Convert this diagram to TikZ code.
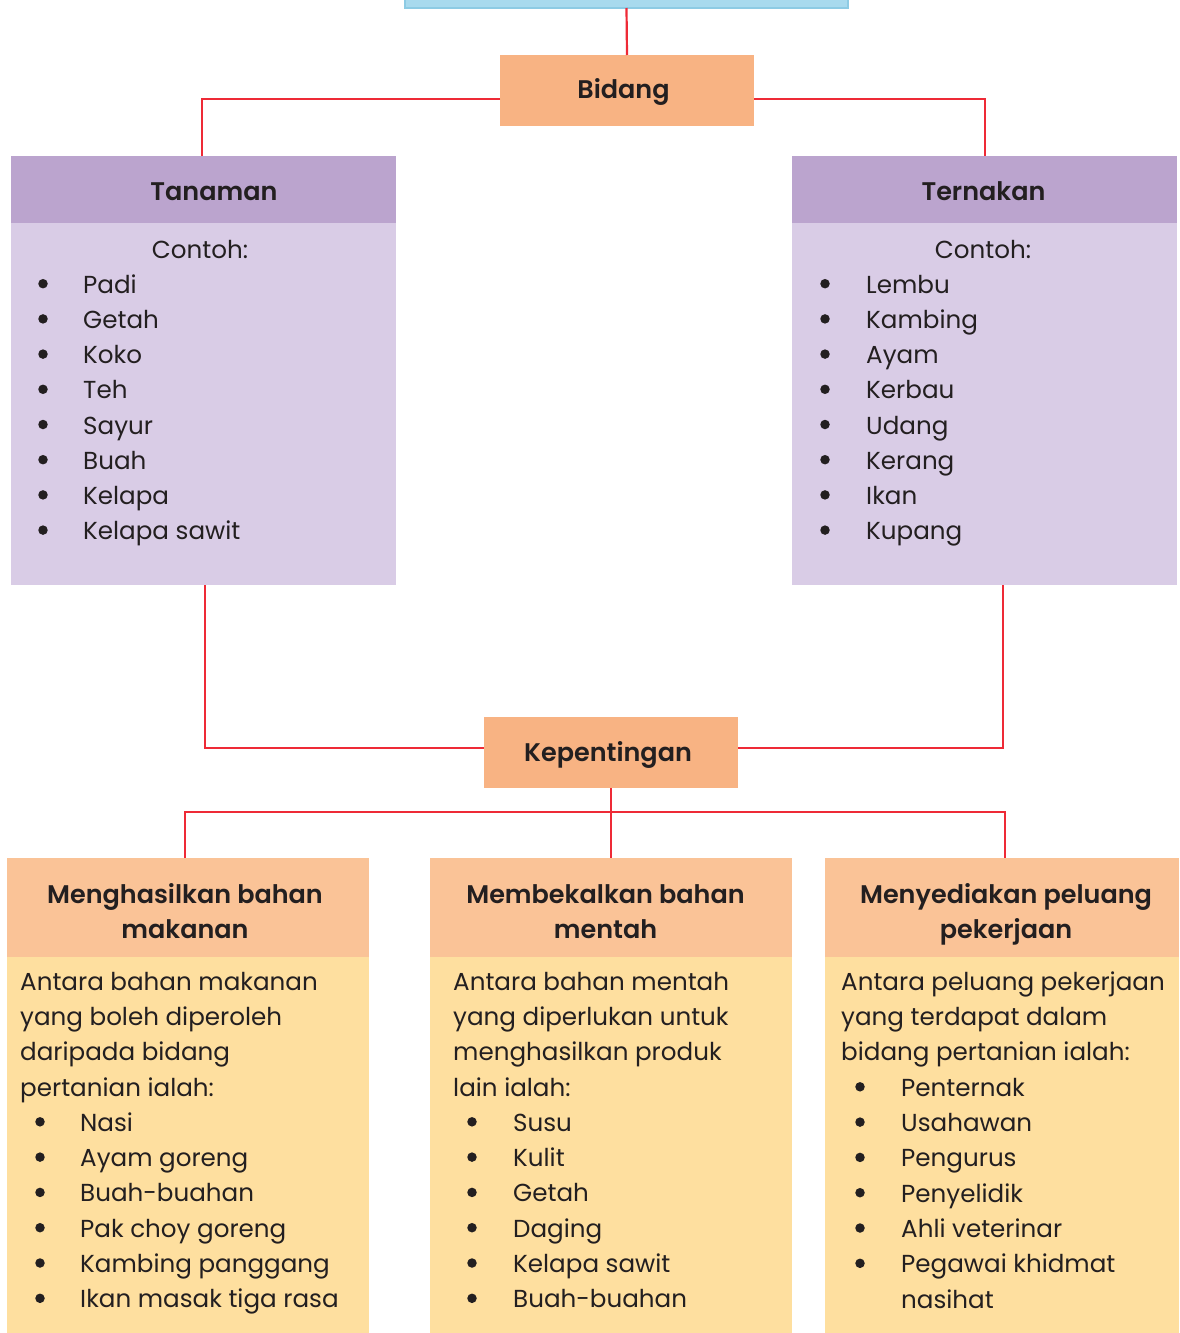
\documentclass[tikz,border=0pt]{standalone}
\usepackage{fontspec}
\setmainfont{Poppins}
\newfontfamily\headfont{Poppins SemiBold}
\begin{document}
\definecolor{salmon}{HTML}{F8B383}
\definecolor{lilachead}{HTML}{BBA4CE}
\definecolor{lilacbody}{HTML}{D9CCE6}
\definecolor{peachhead}{HTML}{FAC397}
\definecolor{creambody}{HTML}{FEDF9F}
\definecolor{skyfill}{HTML}{A8DAEE}
\definecolor{skyedge}{HTML}{8DCBE4}
\definecolor{linkred}{HTML}{EE2A36}
\definecolor{ink}{HTML}{231F20}
\begin{tikzpicture}[x=1pt,y=-1pt,
  box/.style={draw=none,inner sep=0pt,outer sep=0pt,text=ink},
  title/.style={box,font=\fontsize{25.5}{35}\headfont},
  head/.style={text=ink,inner sep=0pt,anchor=base,font=\fontsize{25.5}{35}\headfont},
  body/.style={text=ink,inner sep=0pt,anchor=base west,font=\fontsize{24.6}{35}\selectfont},
  dot/.style={circle,fill=ink,draw=none,inner sep=0pt,minimum size=9.5pt},
  link/.style={draw=linkred,line width=2.2pt}]
\useasboundingbox (0,0) rectangle (1179,1333);

% top strip (cut off by the page edge)
\node[box,fill=skyfill,draw=skyedge,line width=2pt,minimum width=443,minimum height=60] (top) at (626.5,-22) {};

% level 1
\node[box,fill=salmon,minimum width=254,minimum height=71] (bidang) at (627,90.5) {};
\node[head] (bidangT) at (623.5,98) {Bidang};

% Tanaman
\node[box,fill=lilachead,minimum width=385,minimum height=67] (tanH) at (203.5,189.5) {};
\node[head] (tanT) at (214,200) {Tanaman};
\node[box,fill=lilacbody,minimum width=385,minimum height=362] (tanB) at (203.5,404) {};
% Ternakan
\node[box,fill=lilachead,minimum width=385,minimum height=67] (terH) at (984.5,189.5) {};
\node[head] (terT) at (983.5,200) {Ternakan};
\node[box,fill=lilacbody,minimum width=385,minimum height=362] (terB) at (984.5,404) {};

% Kepentingan
\node[box,fill=salmon,minimum width=254,minimum height=71] (kep) at (611,752.5) {};
\node[head] (kepT) at (608,761.5) {Kepentingan};

% bottom boxes
\node[box,fill=peachhead,minimum width=362,minimum height=99] (b1H) at (188,907.5) {};
\node[box,fill=creambody,minimum width=362,minimum height=378] (b1B) at (188,1146) {};
\node[head] (b1T1) at (185,903) {Menghasilkan bahan};
\node[head] (b1T2) at (185,938.5) {makanan};
\node[box,fill=peachhead,minimum width=362,minimum height=99] (b2H) at (611,907.5) {};
\node[box,fill=creambody,minimum width=362,minimum height=378] (b2B) at (611,1146) {};
\node[head] (b2T1) at (605.5,903) {Membekalkan bahan};
\node[head] (b2T2) at (605.5,938.5) {mentah};
\node[box,fill=peachhead,minimum width=354,minimum height=99] (b3H) at (1002,907.5) {};
\node[box,fill=creambody,minimum width=354,minimum height=378] (b3B) at (1002,1146) {};
\node[head] (b3T1) at (1006,903) {Menyediakan peluang};
\node[head] (b3T2) at (1006,938.5) {pekerjaan};

% connectors
\draw[link] (top.south) -- (bidang.north);
\draw[link] ([yshift=-8.5pt]bidang.west) -| ([xshift=-1.5pt]tanH.north);
\draw[link] ([yshift=-8.5pt]bidang.east) -| ([xshift=0.5pt]terH.north);
\draw[link] ([xshift=1.5pt]tanB.south) |- ([yshift=4.5pt]kep.west);
\draw[link] ([xshift=18.5pt]terB.south) |- ([yshift=4.5pt]kep.east);
\coordinate (jn) at (611,812);
\draw[link] (kep.south) -- (b2H.north);
\draw[link] ([xshift=-3pt]b1H.north) |- (jn) -| ([xshift=3pt]b3H.north);

% Tanaman list
\node[body,anchor=base] (tc) at (200,258) {Contoh:};
\foreach \t [count=\i] in {Padi,Getah,Koko,Teh,Sayur,Buah,Kelapa,Kelapa sawit}{
  \node[dot] (td\i) at (43,248.5+35.2*\i) {};
  \node[body] (tt\i) at (83,258+35.2*\i) {\t};
}
% Ternakan list
\node[body,anchor=base] (rc) at (983,258) {Contoh:};
\foreach \t [count=\i] in {Lembu,Kambing,Ayam,Kerbau,Udang,Kerang,Ikan,Kupang}{
  \node[dot] (rd\i) at (825,248.5+35.2*\i) {};
  \node[body] (rt\i) at (866,258+35.2*\i) {\t};
}

% box 1 text
\foreach \t [count=\i] in {Antara bahan makanan,yang boleh diperoleh,daripada bidang,pertanian ialah:}{
  \node[body] (ap\i) at (20,955+35.3*\i) {\t};
}
\foreach \t [count=\i] in {Nasi,Ayam goreng,Buah-buahan,Pak choy goreng,Kambing panggang,Ikan masak tiga rasa}{
  \node[dot] (ad\i) at (40,1086.5+35.3*\i) {};
  \node[body] (at\i) at (80,1096+35.3*\i) {\t};
}
% box 2 text
\foreach \t [count=\i] in {Antara bahan mentah,yang diperlukan untuk,menghasilkan produk,lain ialah:}{
  \node[body] (bp\i) at (453,955+35.3*\i) {\t};
}
\foreach \t [count=\i] in {Susu,Kulit,Getah,Daging,Kelapa sawit,Buah-buahan}{
  \node[dot] (bd\i) at (472,1086.5+35.3*\i) {};
  \node[body] (bt\i) at (513,1096+35.3*\i) {\t};
}
% box 3 text
\foreach \t [count=\i] in {Antara peluang pekerjaan,yang terdapat dalam,bidang pertanian ialah:}{
  \node[body] (cp\i) at (841,955+35.3*\i) {\t};
}
\foreach \t [count=\i] in {Penternak,Usahawan,Pengurus,Penyelidik,Ahli veterinar,Pegawai khidmat}{
  \node[dot] (cd\i) at (860,1051.5+35.3*\i) {};
  \node[body] (ct\i) at (901,1061+35.3*\i) {\t};
}
\node[body] (ct7) at (901,1061+35.3*7) {nasihat};
\end{tikzpicture}
\end{document}
